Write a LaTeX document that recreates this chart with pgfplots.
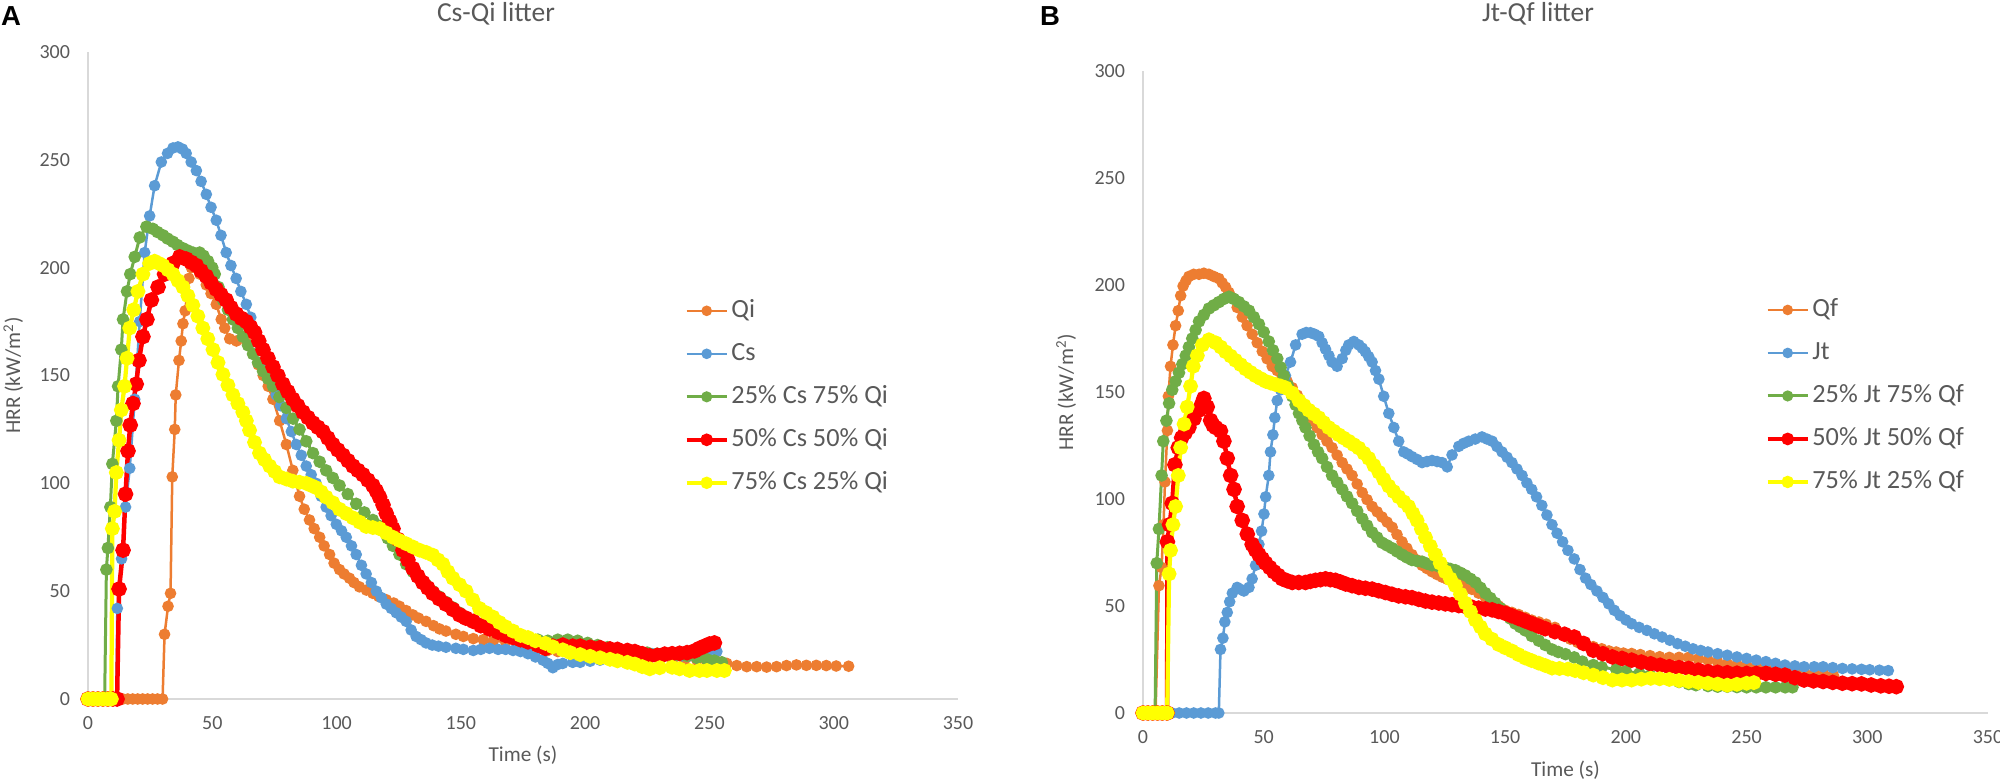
\documentclass[border=0pt]{standalone}
\usepackage{pgfplots}
\pgfplotsset{compat=1.18}
\usepackage{fontspec}
\setmainfont{Carlito}
\newfontfamily\arialb{Liberation Sans}
\definecolor{cQ}{HTML}{ED7D31}
\definecolor{cB}{HTML}{5B9BD5}
\definecolor{cG}{HTML}{70AD47}
\definecolor{cR}{HTML}{FF0000}
\definecolor{cY}{HTML}{FFFF00}
\definecolor{txt}{HTML}{595959}
\definecolor{axl}{HTML}{D9D9D9}
\pgfplotsset{
  hrr/.style={
    scale only axis, xmin=0, xmax=350, ymin=0, ymax=300,
    xtick={0,50,...,350}, ytick={0,50,...,300},
    axis x line*=bottom, axis y line*=left,
    axis line style={axl, line width=0.7pt},
    major tick length=0pt,
    tick label style={font=\fontsize{8}{9.6}\selectfont, text=txt, inner sep=0pt},
    /pgf/number format/assume math mode=true,
    xticklabel style={anchor=north, yshift=-7pt},
    yticklabel style={anchor=east, xshift=-7pt},
    label style={font=\fontsize{8.5}{10}\selectfont, text=txt},
    clip=false,
    legend cell align=left,
    legend image code/.code={\draw[mark repeat=2,mark phase=2,mark size=1.6pt] plot coordinates {(0pt,0pt) (8pt,0pt) (16pt,0pt)};},
    legend style={anchor=north west, draw=none, fill=none, font=\fontsize{10.5}{12}\selectfont, text=txt, row sep=6.2pt, inner sep=0pt, nodes={inner sep=1pt, text height=7pt, text depth=2pt}},
  },
  sQ/.style={color=cQ, line width=1.0pt, mark=*, mark size=1.8pt, mark options={solid, fill=cQ, draw=cQ}},
  sB/.style={color=cB, line width=1.0pt, mark=*, mark size=1.8pt, mark options={solid, fill=cB, draw=cB}},
  sG/.style={color=cG, line width=1.2pt, mark=*, mark size=1.9pt, mark options={solid, fill=cG, draw=cG}},
  sR/.style={color=cR, line width=1.8pt, mark=*, mark size=2.2pt, mark options={solid, fill=cR, draw=cR}},
  sY/.style={color=cY, line width=1.7pt, mark=*, mark size=2.1pt, mark options={solid, fill=cY, draw=cY}},
}
\begin{document}
\begin{tikzpicture}
\useasboundingbox (0,0) rectangle (800pt,312.8pt);
% ---------------- Panel A ----------------
\begin{axis}[hrr, at={(35.2pt,33.2pt)}, anchor=south west, width=348pt, height=258.8pt,
  xlabel={Time (s)}, ylabel={HRR (kW/m\textsuperscript{2})},
  x label style={at={(axis description cs:0.5,-0.087)}, anchor=center},
  y label style={at={(axis description cs:-0.086,0.5)}, anchor=center},
  legend style={at={(0.685,0.622)}}]
\addplot[sQ] coordinates {(0,0)(2,0)(4,0)(6,0)(8,0)(10,0)(12,0)(14,0)(16,0)(18,0)(20,0)(22,0)(24,0)(26,0)(28,0)(30,0)
(30.8,30)(32.2,43)(33.2,49)(33.9,103)(34.9,125)(35.3,141)(36.6,157)(37.5,166)(38.2,174)(39.1,180)(40.6,195)(41.6,200)(43,201)(45,197)(47.6,192)(49.5,188)(51.6,183)(53.6,176)(55,172)(57,167)(59.7,166)(62.3,168)(64,165)(66.4,160)(68.5,155)(70.5,150)(72.5,145)(74.4,139)(77.1,129)(79.8,118)(82.4,106)(85.1,94)(87,88)(89.1,83)(91,79)(93.2,75)(95,71)(97.2,67)(99,63)(101.2,60)(103,58)(105.2,56)(107,54)(109.2,52)(112,50.5)(114.6,49)(117,47.5)(120,46)(123,44.5)(125.3,43)(128,41)(130.7,39)(133,37.5)(136,36)(139,34)(141.4,32.5)(144,31.5)(148,30)(151,29)(155,28)(159,27.5)(163,27)(168,26.5)(173,26)(177,24.5)(181,23.5)(185,22.5)(189,22)(193,21.5)(197,21)(201,20.5)(205,20)(210,20)(215,19.5)(220,19)(225,19)(230,18.5)(235,18)(240,18)(245,18)(249,17.5)(253,17.5)(257,16.5)(261,15.5)(265,15)(269,15)(273,14.8)(277,15)(281,15.5)(285,15.8)(289,15.6)(293,15.6)(297,15.5)(301,15.3)(306,15.2)};
\addlegendentry{Qi}
\addplot[sB] coordinates {(0,0)(2,0)(4,0)(6,0)(8,0)(10,0)(11.4,0)(11.8,42)(13.5,65)(15.1,89)(16.8,107)(18.8,139)(20.8,175)(22.8,207)(24.8,224)(26.8,238)(29.5,249)(32,253)(34.2,255.5)(36.2,256)(38,255)(39.5,253)(41.5,249)(43.6,245)(45.5,240)(47.6,234)(49.5,228)(51.6,222)(53.5,215)(55.6,207)(57.5,201)(59.6,195)(61.5,189)(63.7,183)(65.5,177)(67.7,170)(69.5,163)(71.7,156)(73.5,148)(75.7,141)(77.5,136)(79.8,130)(81.8,124)(83.8,118)(85.8,113)(87.8,108)(89.8,104)(91.8,100)(93.8,94)(95.8,89)(97.8,85)(99.9,81)(102,78)(103.9,75)(106,71)(107.9,67)(110,62)(111.9,58)(114,54)(116,50)(118,47)(120,44)(122,42)(124,40)(126,38)(128,36)(130,32)(132,29)(134,27.5)(136,26)(138.5,25)(141,24.5)(144,24)(148,23.5)(151,23)(155,22.5)(158,23)(161.5,23.5)(165,23)(168,23)(171,22.5)(174,22)(177,21)(180,19.5)(183,18)(185,16.5)(187,14.5)(189,16)(191,16.5)(195,17)(198,17)(202,17.5)(206,18)(210,18.5)(213,19)(217,19.5)(220,20)(224,20.5)(227,21)(231,20.5)(235,20)(239,20)(242,20)(246,20.5)(249,21)(253,22)};
\addlegendentry{Cs}
\addplot[sG] coordinates {(0,0)(2,0)(4,0)(6,0)(6.7,0)(7.4,60)(8,70)(9,89)(9.8,109)(11.4,129)(12.1,145)(13.4,162)(14.1,176)(15.7,189)(17,197)(18.8,205)(20.8,214)(23.5,219)(26.1,218)(28,216.5)(30.2,215)(32,213.5)(34.2,212)(36,210.5)(38.2,209)(40,208)(42.2,207)(44.9,207)(46.5,205.5)(48.3,203)(50,200)(51,197)(52.5,191)(54.3,185)(56.3,180.5)(58.3,176)(60.3,172)(62.3,168)(64.4,164)(66.4,160)(68.4,156)(70.4,152)(72.4,148.5)(74.4,145)(77,140)(79.8,135)(82.5,130)(85.1,125)(87.8,119.5)(90.5,114)(93.2,110)(95.8,106)(98.5,102.5)(101.2,99)(104.5,95)(107.9,90.5)(111.2,86.5)(114.6,83)(116.6,80.5)(118.6,78)(120.6,74.5)(122.7,71)(125.3,67)(128,62.5)(130.7,59)(133.4,56)(136,53)(138.7,50)(141.3,47.5)(144,45)(146.7,42.5)(149.5,40)(152,38)(155,36)(158,34.5)(161.5,33)(165,31)(168,30)(171,29)(174,28.5)(177,28)(181,27.5)(185,27)(189,27.5)(193,27.5)(197,27)(201,26)(205,25)(209,24)(213,23.5)(217,22.5)(221,22)(225,21.5)(229,21)(233,20.8)(237,20.5)(241,20)(245,19)(249,18.4)(252,17.8)(255,17)};
\addlegendentry{25\% Cs 75\% Qi}
\addplot[sR] coordinates {(0,0)(2,0)(4,0)(6,0)(8,0)(10,0)(11.7,0)(12.5,51)(14.1,69)(15.1,95)(16.1,115)(17,127)(18.1,137)(19.4,146)(20.5,157)(22.1,168)(23.7,176)(25.5,185)(28.2,191)(30.8,197)(32.5,200)(34.2,202)(36.9,205)(39.5,204)(41.5,202.5)(43.6,201)(45.5,198.5)(47.6,196)(49.5,193)(51.6,190)(53.5,187.5)(55.6,185)(57.5,181.5)(59.7,178.5)(61.7,176.5)(63.7,175)(65.4,172.5)(67,170)(68.7,166)(70.4,162)(72.4,158)(74.4,154)(76.4,150)(78.4,146)(80.4,142.5)(82.4,139)(84.4,136)(86.5,133)(88.5,130.5)(90.5,128)(92.5,126)(94.5,124)(96.5,121)(98.5,118)(100.5,115.5)(102.6,113)(104.6,110.5)(106.6,108)(108.6,106)(110.6,104)(112.6,101.5)(114.6,99)(116,96.5)(117.3,93.6)(118.7,90)(120,86)(121.4,82.5)(122.7,79)(124.7,74)(126.7,69)(128.7,64.5)(130.7,60.5)(132.7,57)(134.7,54)(136.7,51.5)(138.7,49)(141.3,46.5)(144,44)(146.8,41.5)(149.5,39)(152,37.5)(155,36)(158,34)(161.5,32.5)(165,31)(168,29.5)(171,28.5)(174,27.5)(177,26.5)(181,25)(184,23.5)(187,24.5)(191,25)(195,24.5)(198,24.5)(202,24)(206,23.8)(210,23.2)(213,23)(217,22.5)(220,22)(223,21)(226,20)(229,20.2)(232,20.8)(235,21)(238,21.2)(241,21.5)(244,22.3)(246,23.5)(248,24.5)(250,25.5)(252,26)};
\addlegendentry{50\% Cs 50\% Qi}
\addplot[sY] coordinates {(0,0)(2,0)(4,0)(6,0)(8,0)(9.4,0)(9.8,79)(10.7,87)(11.4,105)(12.5,120)(13.4,134)(14.7,145)(15.7,158)(16.8,172)(18.4,180.5)(20.1,189)(22.1,197)(24.8,202)(26.8,203)(28.5,202)(30.2,201)(32.2,199)(34.2,197)(36.2,194)(38.2,191)(40.2,187)(42.2,182.6)(44.2,177.5)(46.2,172)(48.2,167)(50.3,162)(52.3,156)(54.3,150.5)(56.3,145.5)(58.3,141)(60.3,137)(62.3,133)(63.7,129)(65,124.6)(67,119)(69,114)(71,111)(73.1,108)(75.1,105.5)(77.1,103)(79.8,102)(82.4,101)(85.1,100.5)(87.8,100)(89.8,99)(91.8,98)(93.8,96)(95.8,93.6)(98.5,91)(101.2,88)(103.9,86)(106.6,84)(109.3,82)(111.9,80)(114.6,79.5)(117.3,79)(120,77)(122.7,75)(125.3,73.5)(128,72)(130.7,70.5)(133.4,69)(136,68)(138.7,66.7)(140.8,64.5)(142.8,62.5)(144.8,59)(146.8,56)(149.5,53)(152.1,50)(154.8,46)(157.5,42)(160.2,40)(162.9,38)(165.5,35.5)(168,33.5)(171,31.5)(174,29.5)(177,28.5)(180,27)(184,25.8)(187,24.2)(191,22.8)(194,21.5)(198,20.6)(202,19.8)(206,19.1)(210,18.4)(213,17.7)(217,17)(220,16.2)(223,15)(226,14)(230,14.5)(235,14.7)(238,14)(242,13.2)(246,13.2)(249,13.2)(253,13.2)(256,13.2)};
\addlegendentry{75\% Cs 25\% Qi}
\end{axis}
% ---------------- Panel B ----------------
\begin{axis}[hrr, at={(457.2pt,27.6pt)}, anchor=south west, width=338pt, height=256.8pt,
  xlabel={Time (s)}, ylabel={HRR (kW/m\textsuperscript{2})},
  x label style={at={(axis description cs:0.5,-0.089)}, anchor=center},
  y label style={at={(axis description cs:-0.091,0.5)}, anchor=center},
  legend style={at={(0.736,0.65)}}]
\addplot[sQ] coordinates {(0,0)(2,0)(4,0)(5.2,0)(6.6,59.5)(7.7,68)(8.5,88)(9.1,108)(10.1,132)(10.5,148)(11.4,162)(12.4,172)(13.5,181)(14.6,188)(15.6,195)(16.6,199.5)(17.8,202)(19,204)(21,205)(23.2,205)(25.2,205.5)(27.3,205)(29.3,204)(31.4,203)(32.8,201)(34.2,199)(35.6,196.5)(37,194)(39,189.5)(41.1,185)(43.1,181)(45.2,177)(47.3,173)(49.4,169)(51.4,165.5)(53.5,162)(55.6,160)(57.7,157.5)(59.7,155)(61.8,152)(63.9,148.5)(66,144.7)(68,140.5)(70.1,136.7)(72.1,133.3)(74.2,130)(76.2,127)(78.3,124)(80.4,120.5)(82.5,117)(84.5,114)(86.6,111)(88.7,107)(90.8,103)(92.8,99.7)(94.9,96.5)(97,94)(99,91.6)(101.1,89.2)(103.2,86.8)(105.2,83.4)(107.3,80)(109.3,77)(111.4,74)(113.5,71.5)(115.6,69)(117.6,67.5)(119.7,66)(121.8,64.7)(123.9,63.5)(126,62.5)(128.5,61.5)(131,60.5)(133.5,59.5)(136.2,57.8)(139,56)(141.8,54)(144.6,52)(147.3,50)(150,48)(152.8,47)(155.6,46)(158.3,44.7)(161,43.4)(164,42.5)(167,41.5)(170.6,40)(173.8,37)(177,34.5)(180,33)(183,32)(186.5,31)(190,30)(193,29)(196,28.5)(199,28)(202.4,27.8)(206,27.3)(210,26.8)(214,26.3)(218,26)(222,26)(226,26)(230,25.3)(234,24.7)(238,23.8)(242,23)(246,22.7)(250,22.4)(254,21.5)(258,21)(262,20.5)(266,20)(270,19.5)(274,19)(278,18.5)(282,18)(286,17.5)};
\addlegendentry{Qf}
\addplot[sB] coordinates {(0,0)(3,0)(6,0)(9,0)(12,0)(15,0)(18,0)(21,0)(24,0)(27,0)(30,0)(31.4,0)(32.1,29.7)(33.1,35)(33.9,42.6)(34.9,47)(35.9,52)(37,56)(39,58.7)(41,57.5)(41.8,57)(43.9,58.7)(45.2,62.7)(46.6,69)(48,78.8)(49.1,85)(50.1,93)(50.8,101)(52.1,111)(52.8,122)(53.8,130)(54.6,138)(55.6,146)(57,151)(59,157.6)(61.1,164)(63.2,172)(65.9,177)(67.6,177.8)(69.4,177.7)(71.1,177)(72.8,176)(74.2,173)(75.6,170)(77,167)(78.3,164)(80.4,162)(82.5,165.6)(84,169.5)(85.2,172)(87.3,173.6)(89.4,172)(90.8,170.5)(92.1,168.8)(93.5,166.5)(94.9,164)(96.3,160)(97.7,156)(99.7,148)(101.8,140)(103.9,133.4)(105.9,127)(108,122)(109.7,121)(111.4,119.8)(113.5,118.5)(115.6,117)(117.6,117.5)(119.7,118)(121.8,117.5)(123.9,117)(126,115)(128,120.6)(130.8,124.6)(132.8,126)(134.9,127)(137.6,128)(140.4,129)(142.5,128)(144.6,127)(146.6,124.5)(148.7,122)(150.8,119.5)(152.8,117)(154.9,114)(157,111)(159,107.5)(161,104.5)(163,101)(165.2,97)(167.3,92.5)(169.4,88)(171.5,84)(173.8,80)(176,76)(178.6,72)(181,67)(183.3,63)(185.5,60)(188,57)(190.5,54)(192.9,51)(195.2,48)(197.6,45.5)(200,43.5)(202.4,41.7)(205.5,40)(208.7,38.6)(211.8,37)(215,35.5)(218.2,34)(221.4,32.4)(224.6,31.2)(227.8,30)(231,29.2)(234,28.5)(238,27.7)(242,27)(246,26.2)(250,25.5)(254,24.7)(258,24)(262,23.2)(265.9,22.4)(270,22)(273.8,21.6)(278,21.6)(281.7,21.6)(285.7,21.2)(289.7,20.8)(293.7,20.6)(297.6,20.4)(301,20.2)(305,20)(308.7,19.8)};
\addlegendentry{Jt}
\addplot[sG] coordinates {(0,0)(2,0)(4,0)(5,0)(5.7,70)(6.6,86)(7.7,111)(8.4,127)(9.7,136.6)(10.8,144.7)(12.1,151)(13.5,155)(14.9,159)(16.3,163)(17.7,167)(19,171)(20.4,175)(21.8,179)(23.2,183)(25.2,186)(27.3,189)(29.3,190.5)(31.4,192)(33.5,193.5)(35.6,194.5)(37.6,193.5)(39.7,192)(41.8,190)(43.9,188)(45.9,185)(48,181.7)(50,178)(52.1,173.6)(53.8,169.5)(55.6,165.6)(57,161.5)(58.3,157.6)(60,153)(61.8,148)(63.2,144)(64.6,140)(66,136.7)(67.3,133.4)(69,129.5)(70.8,125.4)(72.5,122)(74.2,119)(76.2,115)(78.3,111)(80.4,107.8)(82.5,104.5)(84.5,101.2)(86.6,98)(88.7,94.4)(90.8,90.8)(92.8,87.6)(94.9,84.4)(97,82)(99,79.6)(101.1,78.3)(103.2,77)(105.2,75.5)(107.3,74)(109.3,72.7)(111.4,71.5)(113.5,71)(115.6,70.7)(117.6,69.8)(119.7,69)(122.5,68.5)(125.2,68)(127.3,67.3)(129.4,66.7)(131.5,65.5)(133.5,64.3)(135.6,62.7)(137.7,61)(139.8,58.5)(141.8,56)(143.9,53.7)(145.9,51.4)(148,49)(150,46.6)(152.1,44.2)(154.2,41.8)(156.2,40.2)(158.3,38.6)(161,36)(163.9,33.8)(166.6,31.8)(169.4,29.7)(172,28.5)(175,27.5)(178.6,26)(182,24)(186.5,22.4)(190,21.4)(196,20.4)(200,19.5)(205.6,18.5)(210,17.5)(214,16.4)(218,15.4)(222,14.5)(226,13.5)(229,13)(234,12.6)(238,12.3)(242,12.3)(246,12.1)(250,12)(254,12)(258,12)(262,12)(266,12)(269,12)};
\addlegendentry{25\% Jt 75\% Qf}
\addplot[sR] coordinates {(0,0)(2,0)(4,0)(6,0)(8,0)(10,0)(10.1,80)(11,88)(12.1,98)(13.2,116)(14.6,124)(16,128.6)(17.5,131)(19,133.4)(21.1,137.5)(23.2,141.5)(24.2,144)(25.2,147)(26.6,143)(28,136.7)(29,134.5)(30.1,133.4)(32.1,131.8)(33.5,127)(34.9,119)(36.3,111)(37.7,104.5)(39,96.5)(41.1,90)(43.2,83.6)(45.2,78.8)(46.6,76.2)(48,74)(49.4,72)(50.8,70)(52.5,68)(54.2,66)(56,64.3)(57.7,62.7)(59.7,61.8)(61.8,61)(64.5,61)(67.3,61)(69.3,61.5)(71.4,62)(73.5,62.3)(75.6,62.7)(77.6,62.3)(79.7,62)(81.8,61.2)(83.9,60.3)(86.6,59.5)(89.4,58.7)(92.1,58.3)(94.9,57.9)(97.6,57.1)(100.4,56.3)(103.1,55.5)(105.9,54.7)(108.7,54.3)(111.4,53.9)(114.2,53.1)(117,52.3)(119.7,51.8)(122.5,51.4)(125.2,51)(128,50.6)(130.8,50.2)(133.5,49.8)(136.3,49.4)(139,49)(141.8,48.6)(144.6,48.2)(147.3,47.4)(150,46.6)(152.8,45.4)(155.6,44.2)(158.3,43)(161,41.8)(163.8,40.6)(166.6,39.4)(170.6,38)(174.6,36.8)(178.6,35.5)(182.5,32.5)(186.5,29.3)(190.5,27.7)(194.4,26.2)(198.4,25.5)(202.4,24.7)(206.4,23.8)(210.3,23)(214.2,22.3)(218,21.6)(222,21.2)(226,20.8)(230,20)(234,19.3)(238,19)(242,18.8)(246,18.6)(250,18.5)(254,18.5)(258,18.5)(262,18.1)(265.9,17.7)(270,16.5)(273.8,15.4)(277.7,15)(281.7,14.7)(285.7,14.3)(289.7,13.9)(293.7,13.7)(297.6,13.6)(301.6,13.1)(305.6,12.7)(309,12.5)(312,12.3)};
\addlegendentry{50\% Jt 50\% Qf}
\addplot[sY] coordinates {(0,0)(2,0)(4,0)(6,0)(8,0)(10,0)(10.8,65)(11.4,76)(12.4,88)(13.5,96.5)(14.6,111)(15.6,124)(17,135)(18.3,143)(19.7,152.7)(20.8,162)(22.5,167)(24.6,172)(27.3,174.4)(30.1,173)(32.2,171)(34.2,168.8)(36.3,166.8)(38.3,164.8)(40.4,162.8)(42.5,160.8)(44.5,159.2)(46.6,157.6)(48.7,156.3)(50.8,155)(52.9,154.2)(54.9,153.5)(57,152.8)(59,152)(61.8,149.5)(64.6,146)(66.7,143.7)(68.7,141.5)(70.8,139.7)(72.8,138)(74.8,135.7)(76.9,133.4)(79,131.7)(81.1,130)(83.1,128.5)(85.2,127)(87.3,125.4)(89.4,123.8)(91.5,121.4)(93.5,119)(95.6,115.7)(97.7,112.5)(99.7,109.2)(101.8,106)(103.8,103.5)(105.9,101)(108,98.7)(110,96.5)(111.8,93.2)(113.5,90)(115.3,86)(117,82)(119,78)(121.1,74)(123.1,70)(125.2,66)(127.3,62.7)(129.4,59.5)(131.5,55.5)(133.5,51.4)(135.6,47.4)(137.7,43.4)(139.8,40.2)(141.8,37)(144.5,34.5)(147.3,32)(150,30.5)(152.8,29)(155.5,27.3)(158.3,25.7)(161,24.5)(163.9,23.3)(166.6,22.2)(169.4,21)(172.5,20.8)(176,20.5)(179,19.8)(182.5,18.8)(186.5,17.7)(190.5,16.5)(194.4,15.4)(198.4,15.4)(202.4,15.4)(206.4,15.8)(210.3,16.2)(214,16)(218,15.7)(222,15.2)(226,14.7)(230,14.3)(234,13.9)(238,13.5)(242,13)(246,13.4)(250,13.9)(253,14.2)};
\addlegendentry{75\% Jt 25\% Qf}
\end{axis}
% ---------------- titles and panel letters ----------------
\node[font=\fontsize{11}{13}\selectfont, text=txt] at (198.4pt,307.2pt) {Cs-Qi litter};
\node[font=\fontsize{11}{13}\selectfont, text=txt] at (615.2pt,307.2pt) {Jt-Qf litter};
\node[font=\arialb\bfseries\fontsize{11}{13}\selectfont, anchor=west, inner sep=0pt] at (0.3pt,306.4pt) {A};
\node[font=\arialb\bfseries\fontsize{11}{13}\selectfont, anchor=center, inner sep=0pt] at (420pt,306.4pt) {B};
\end{tikzpicture}
\end{document}
